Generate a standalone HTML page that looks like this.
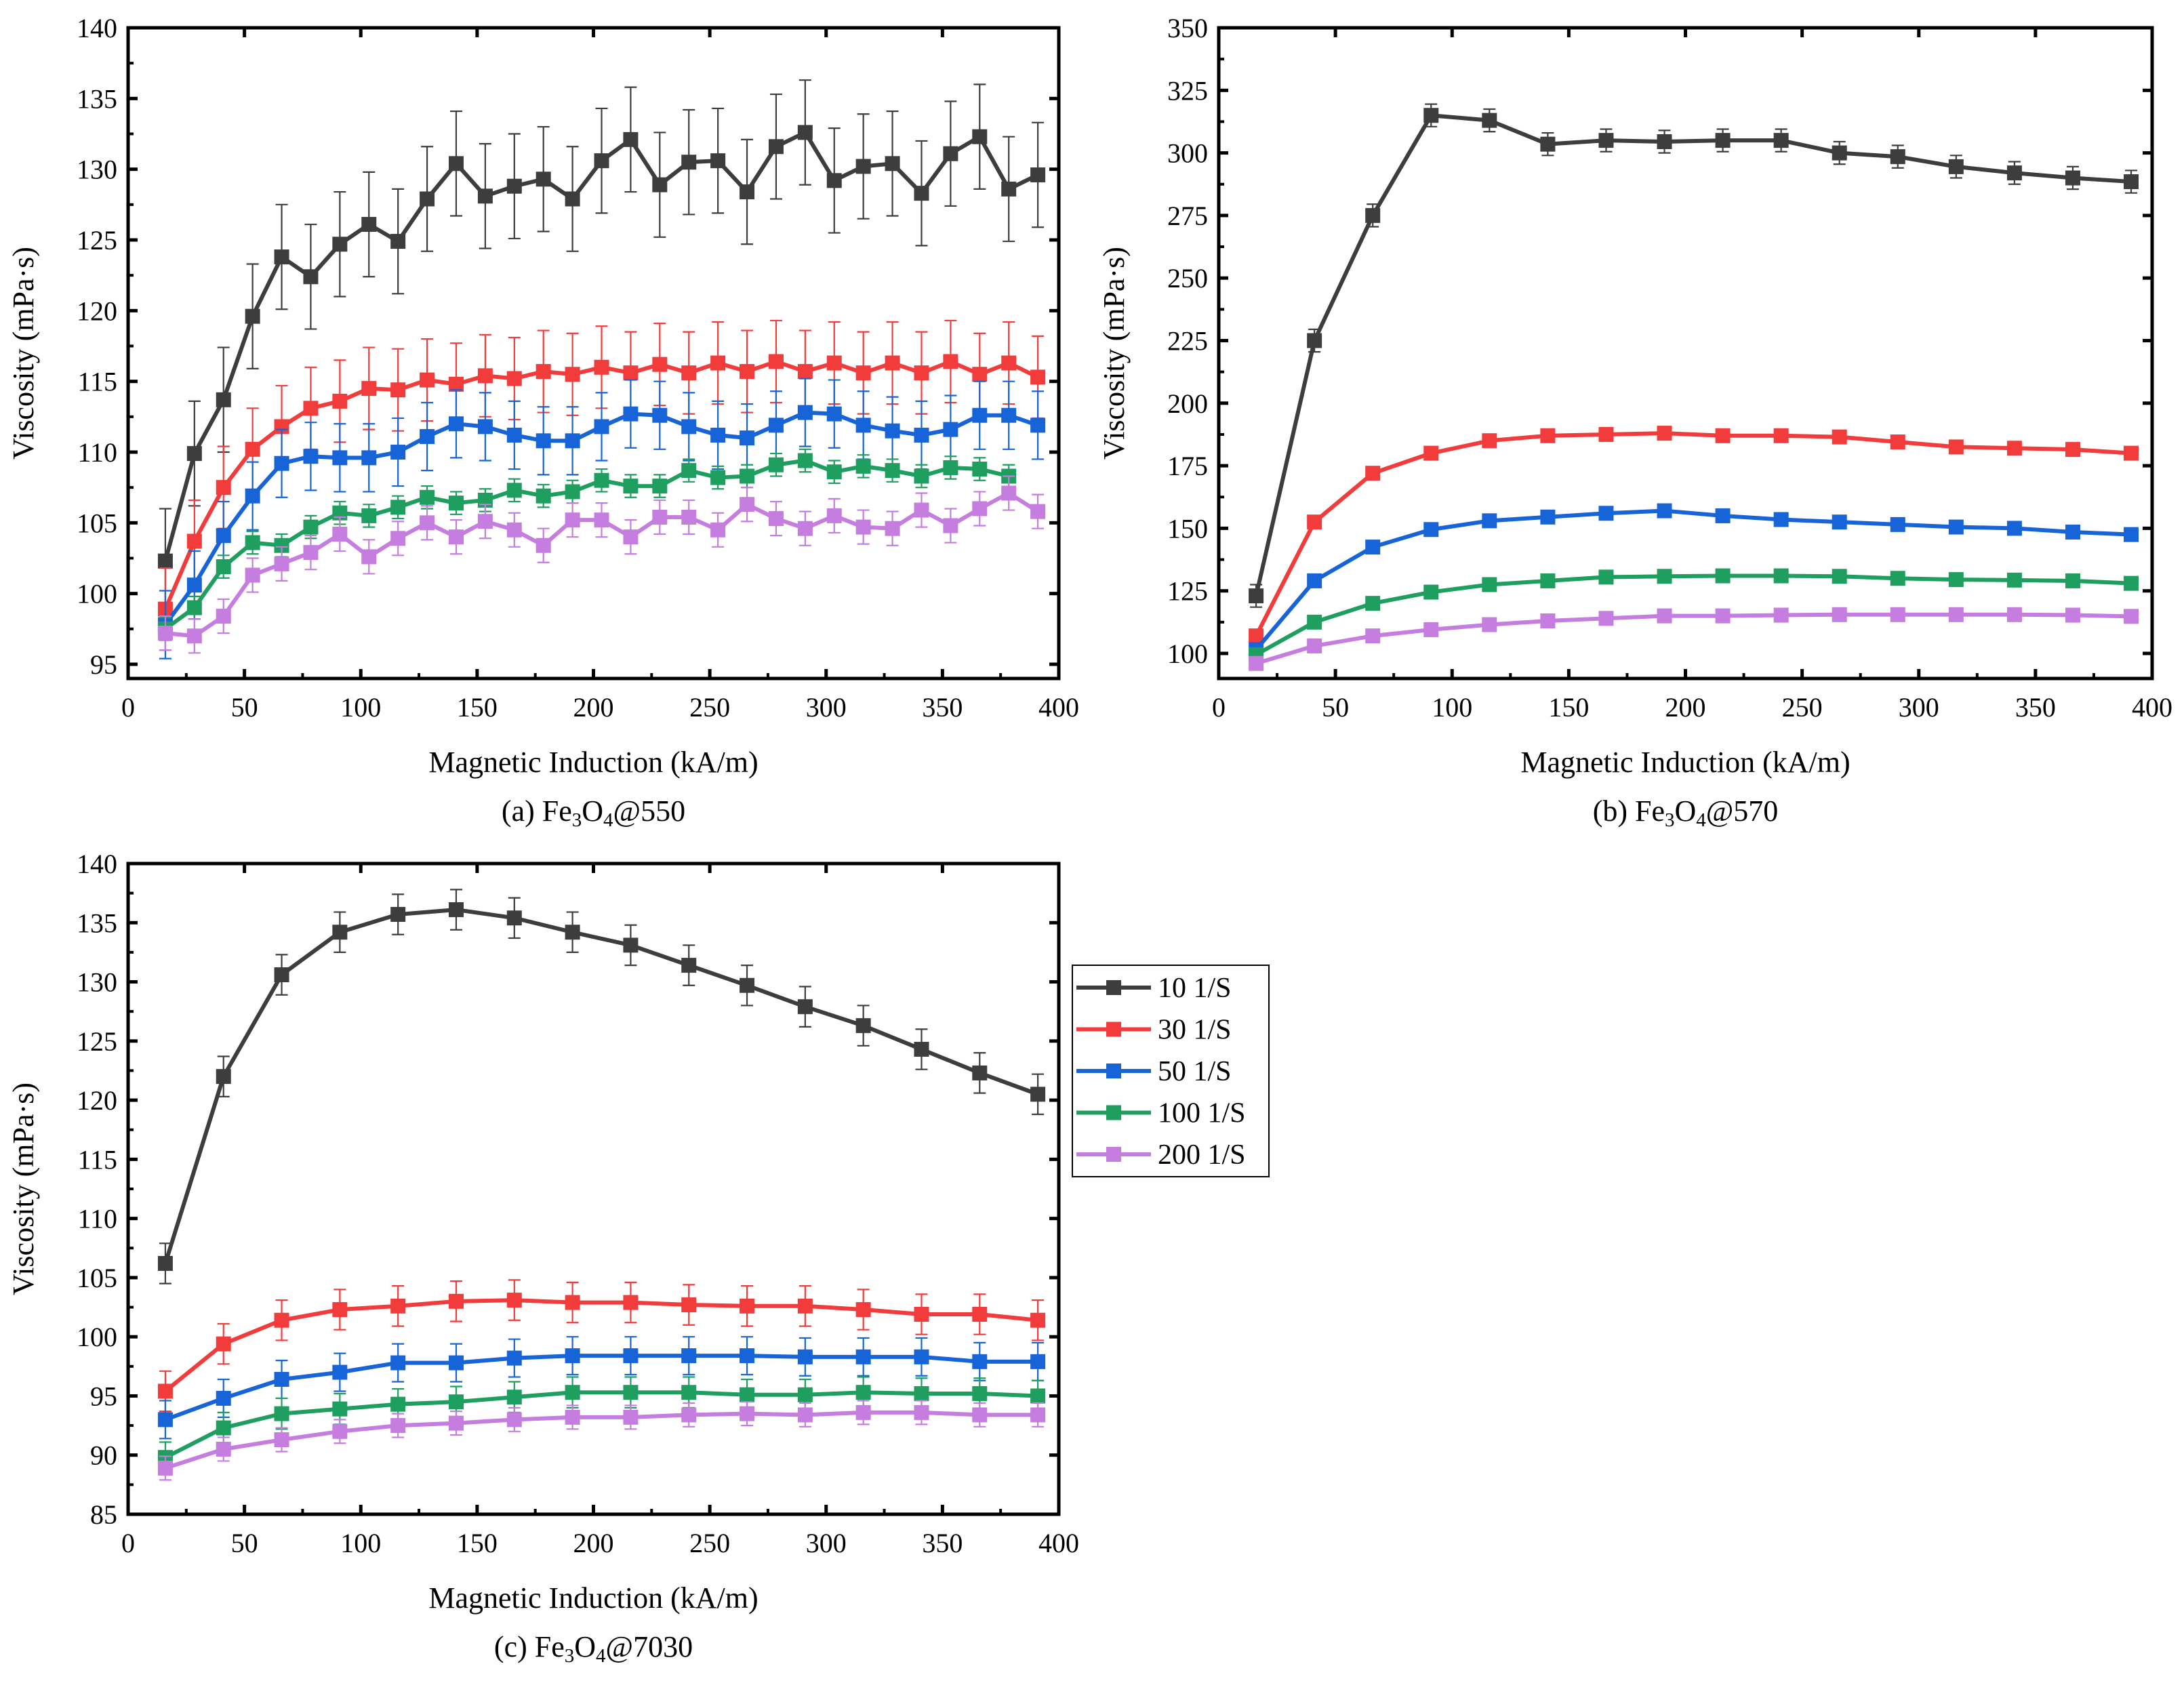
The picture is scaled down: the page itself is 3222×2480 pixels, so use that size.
<!DOCTYPE html>
<html><head><meta charset="utf-8"><style>
html,body{margin:0;padding:0;background:#fff;}
svg{display:block;}
svg text{font-family:"Liberation Serif","Times New Roman",serif;}
</style></head><body>
<svg id="fig" width="3222" height="2480" viewBox="0 0 3222 2480" font-family="Liberation Serif, serif" xmlns="http://www.w3.org/2000/svg"></svg>
<script>
const seriesNames=["10 1/S","30 1/S","50 1/S","100 1/S","200 1/S"];
const colors=["#3d3d3d","#f23b3b","#1764d8","#1e9e5f","#c57ddf"];
const xA=[16,28.5,41,53.5,66,78.5,91,103.5,116,128.5,141,153.5,166,178.5,191,203.5,216,228.5,241,253.5,266,278.5,291,303.5,316,328.5,341,353.5,366,378.5,391];
const xB=[16,41,66,91,116,141,166,191,216,241,266,291,316,341,366,391];
const a10=[102.3,109.9,113.7,119.6,123.8,122.4,124.7,126.1,124.9,127.9,130.4,128.1,128.8,129.3,127.9,130.6,132.1,128.9,130.5,130.6,128.4,131.6,132.6,129.2,130.2,130.4,128.3,131.1,132.3,128.6,129.6];
const a30=[98.9,103.7,107.5,110.2,111.8,113.1,113.6,114.5,114.4,115.1,114.8,115.4,115.2,115.7,115.5,116.0,115.6,116.2,115.6,116.3,115.7,116.4,115.7,116.3,115.6,116.3,115.6,116.4,115.5,116.3,115.3];
const a50=[97.8,100.6,104.1,106.9,109.2,109.7,109.6,109.6,110.0,111.1,112.0,111.8,111.2,110.8,110.8,111.8,112.7,112.6,111.8,111.2,111.0,111.9,112.8,112.7,111.9,111.5,111.2,111.6,112.6,112.6,111.9];
const a100=[97.5,99.0,101.9,103.6,103.4,104.7,105.7,105.5,106.1,106.8,106.4,106.6,107.3,106.9,107.2,108.0,107.6,107.6,108.7,108.2,108.3,109.1,109.4,108.6,109.0,108.7,108.3,108.9,108.8,108.3];
const a200=[97.2,97.0,98.4,101.3,102.1,102.9,104.2,102.6,103.9,105.0,104.0,105.1,104.5,103.4,105.2,105.2,104.0,105.4,105.4,104.5,106.3,105.3,104.6,105.5,104.7,104.6,105.9,104.8,106.0,107.1,105.8];
const aErr=[3.7,2.9,2.4,0.8,1.2];
const b10=[123,225,275,315,313,303.5,305,304.5,305,305,300,298.5,294.5,292,290,288.5];
const b30=[107,152.5,172,180,185,187,187.5,188,187,187,186.5,184.5,182.5,182,181.5,180];
const b50=[101.5,129,142.5,149.5,153,154.5,156,157,155,153.5,152.5,151.5,150.5,150,148.5,147.5];
const b100=[99.5,112.5,120,124.5,127.5,129,130.5,130.8,131,131,130.8,130,129.5,129.3,129,128];
const b200=[96,103,107,109.5,111.5,113,114,115,115,115.3,115.5,115.5,115.5,115.5,115.3,114.8];
const bErr=[4.5,1.5,2,1.5,1];
const c10=[106.2,122.0,130.6,134.2,135.7,136.1,135.4,134.2,133.1,131.4,129.7,127.9,126.3,124.3,122.3,120.5];
const c30=[95.4,99.4,101.4,102.3,102.6,103.0,103.1,102.9,102.9,102.7,102.6,102.6,102.3,101.9,101.9,101.4];
const c50=[93.0,94.8,96.4,97.0,97.8,97.8,98.2,98.4,98.4,98.4,98.4,98.3,98.3,98.3,97.9,97.9];
const c100=[89.8,92.3,93.5,93.9,94.3,94.5,94.9,95.3,95.3,95.3,95.1,95.1,95.3,95.2,95.2,95.0];
const c200=[88.9,90.5,91.3,92.0,92.5,92.7,93.0,93.2,93.2,93.4,93.5,93.4,93.6,93.6,93.4,93.4];
const cErr=[1.7,1.7,1.6,1.3,1.0];
const xTicks=[0,50,100,150,200,250,300,350,400];
const aYTicks=[95,100,105,110,115,120,125,130,135,140];
const bYTicks=[100,125,150,175,200,225,250,275,300,325,350];
const cYTicks=[85,90,95,100,105,110,115,120,125,130,135,140];

const NS="http://www.w3.org/2000/svg";
const svg=document.getElementById('fig');
const FF='"Liberation Serif", serif';
function mk(tag,attrs,parent){const e=document.createElementNS(NS,tag);for(const k in attrs)e.setAttribute(k,attrs[k]);if(tag==='text')e.setAttribute('font-family',FF);(parent||svg).appendChild(e);return e;}

function panel(cfg){
  const g=mk('g',{});
  
  
  const {L,R,T,B,ySpan0,ySpan1}=cfg;
  const sx=v=>L+(v-0)/400*(R-L);
  const sy=v=>ySpan0+(v-cfg.yt0)/(cfg.yt1-cfg.yt0)*(ySpan1-ySpan0);
  cfg.series.forEach((ys,si)=>{
    const sg=mk('g',{},g);
    
    
    const col=colors[si], e=cfg.err[si];
    ys.forEach((v,i)=>{
      const x=sx(cfg.xs[i]);
      const y1=sy(v+e),y2=sy(v-e);
      const eb=mk('path',{d:`M${x},${y1}V${y2}M${x-9},${y1}H${x+9}M${x-9},${y2}H${x+9}`,stroke:col,'stroke-width':2.2,fill:'none'},sg);
      
      
    });
    const pts=ys.map((v,i)=>sx(cfg.xs[i])+','+sy(v)).join(' ');
    const pl=mk('polyline',{points:pts,fill:'none',stroke:col,'stroke-width':6,'stroke-linejoin':'round'},sg);
    
    
    ys.forEach((v,i)=>{
      const r=mk('rect',{x:sx(cfg.xs[i])-11,y:sy(v)-11,width:22,height:22,fill:col},sg);
      
      
    });
  });
  const fr=mk('rect',{x:L,y:T,width:R-L,height:B-T,fill:'none',stroke:'#000','stroke-width':5},g);
  
  
  xTicks.forEach((t,i)=>{
    const x=sx(t);
    mk('line',{x1:x,x2:x,y1:B,y2:B-14,stroke:'#000','stroke-width':5},g);
    mk('line',{x1:x,x2:x,y1:T,y2:T+14,stroke:'#000','stroke-width':5},g);
    if(i<xTicks.length-1){const xm=sx(t+25);
      mk('line',{x1:xm,x2:xm,y1:B,y2:B-8,stroke:'#000','stroke-width':4},g);}
    const tx=mk('text',{x:x,y:B+56,'font-size':40,'text-anchor':'middle',fill:'#000'},g);
    tx.textContent=t;
    
    
  });
  const yt=cfg.yTicks, step=yt[1]-yt[0];
  yt.forEach((t,i)=>{
    const y=sy(t);
    mk('line',{x1:L,x2:L+14,y1:y,y2:y,stroke:'#000','stroke-width':5},g);
    mk('line',{x1:R,x2:R-14,y1:y,y2:y,stroke:'#000','stroke-width':5},g);
    if(i<yt.length-1){const ym=sy(t+step/2);
      mk('line',{x1:L,x2:L+8,y1:ym,y2:ym,stroke:'#000','stroke-width':4},g);}
    const tx=mk('text',{x:L-16,y:y+14,'font-size':40,'text-anchor':'end',fill:'#000'},g);
    tx.textContent=t;
    
    
  });
  const xt=mk('text',{x:(L+R)/2,y:B+138,'font-size':44,'text-anchor':'middle'},g);
  xt.textContent='Magnetic Induction (kA/m)';
  
  
  const ytl=mk('text',{x:0,y:0,'font-size':44,'text-anchor':'middle',transform:`translate(${L-140},${(T+B)/2}) rotate(-90)`},g);
  ytl.textContent='Viscosity (mPa·s)';
  
  
  const cap=mk('text',{x:(L+R)/2,y:B+210,'font-size':44,'text-anchor':'middle'},g);
  cap.innerHTML=cfg.cap[0]+' Fe<tspan font-size="29" dy="8">3</tspan><tspan dy="-8">O</tspan><tspan font-size="29" dy="8">4</tspan><tspan dy="-8">@'+cfg.cap[1]+'</tspan>';
  
  
}

panel({name:'panel-a',L:189,R:1562,T:41,B:1001,yt0:95,yt1:140,ySpan0:980,ySpan1:41,yTicks:aYTicks,xs:xA,series:[a10,a30,a50,a100,a200],err:aErr,cap:['(a)','550']});
panel({name:'panel-b',L:1798,R:3175,T:41,B:1001,yt0:100,yt1:350,ySpan0:964,ySpan1:41,yTicks:bYTicks,xs:xB,series:[b10,b30,b50,b100,b200],err:bErr,cap:['(b)','570']});
panel({name:'panel-c',L:189,R:1562,T:1274,B:2234,yt0:85,yt1:140,ySpan0:2234,ySpan1:1274,yTicks:cYTicks,xs:xB,series:[c10,c30,c50,c100,c200],err:cErr,cap:['(c)','7030']});

const lg=mk('g',{});


mk('rect',{x:1582,y:1424,width:290,height:312,fill:'#fff',stroke:'#000','stroke-width':2},lg);
seriesNames.forEach((n,i)=>{
  const y=1457+i*61.5;
  const eg=mk('g',{},lg);
  
  
  mk('line',{x1:1588,x2:1698,y1:y,y2:y,stroke:colors[i],'stroke-width':6},eg);
  mk('rect',{x:1632,y:y-11,width:22,height:22,fill:colors[i]},eg);
  const t=mk('text',{x:1708,y:y+14,'font-size':42},eg);
  t.textContent=n;
});
</script>
</body></html>
